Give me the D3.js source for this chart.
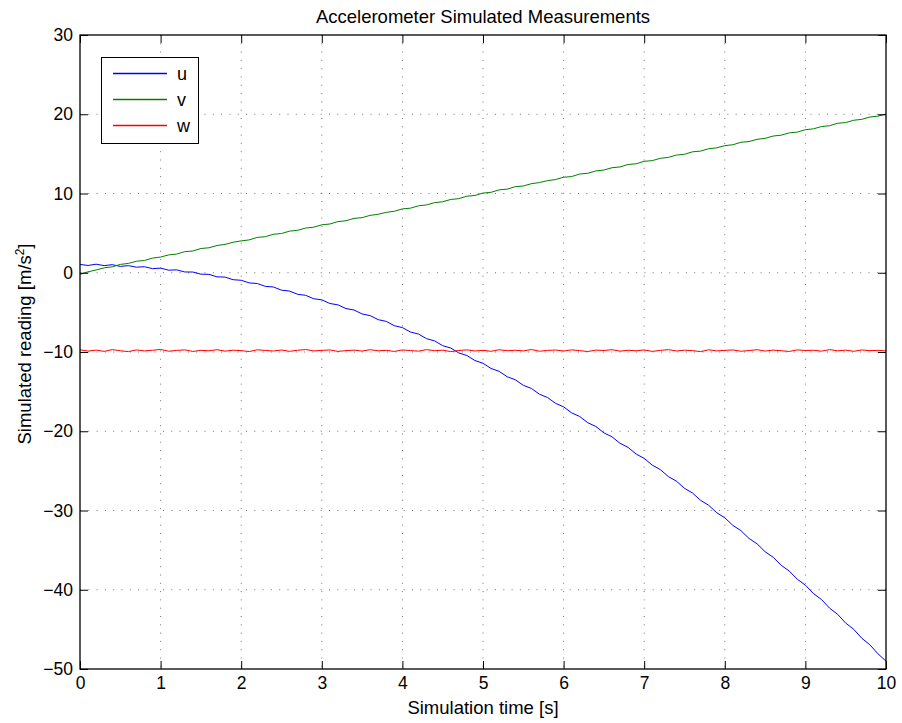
<!DOCTYPE html>
<html><head><meta charset="utf-8">
<script src="https://cdn.jsdelivr.net/npm/d3@7"></script>
<style>body{margin:0;background:#fff}text{font-family:"Liberation Sans",Arial,Helvetica,sans-serif}</style>
</head><body><svg id="c" width="902" height="723"></svg>
<script>
const timeS = d3.range(0, 101).map(i => i / 10);
const uVals = [1.05,0.92,1.08,0.90,1.02,0.80,0.90,0.70,0.76,0.52,0.58,0.33,0.36,0.10,0.09,-0.18,-0.20,-0.52,-0.55,-0.88,
-0.95,-1.28,-1.36,-1.72,-1.80,-2.20,-2.31,-2.72,-2.85,-3.28,-3.42,-3.88,-4.05,-4.52,-4.70,-5.20,-5.41,-5.92,-6.14,-6.68,
-6.92,-7.48,-7.74,-8.32,-8.60,-9.20,-9.50,-10.12,-10.44,-11.08,-11.42,-12.08,-12.44,-13.12,-13.50,-14.20,-14.60,-15.32,-15.74,-16.48,
-16.92,-17.68,-18.14,-18.92,-19.40,-20.20,-20.70,-21.52,-22.04,-22.88,-23.42,-24.28,-24.84,-25.72,-26.30,-27.20,-27.80,-28.72,-29.34,-30.28,
-30.92,-31.88,-32.54,-33.52,-34.20,-35.20,-35.90,-36.92,-37.64,-38.68,-39.42,-40.48,-41.24,-42.32,-43.10,-44.20,-45.00,-46.12,-46.94,-48.08,-49.00];
const vVals = [-0.20,0.12,0.35,0.62,0.75,1.05,1.18,1.45,1.55,1.85,1.98,2.25,2.36,2.66,2.75,3.06,3.15,3.44,3.58,3.85,
4.02,4.15,4.46,4.55,4.86,4.95,5.25,5.36,5.64,5.75,6.05,6.15,6.45,6.56,6.86,6.95,7.24,7.38,7.62,7.76,
8.06,8.15,8.45,8.56,8.85,8.96,9.25,9.35,9.66,9.75,10.05,10.15,10.46,10.55,10.86,10.95,11.24,11.38,11.62,11.76,
12.05,12.14,12.46,12.55,12.85,12.96,13.25,13.35,13.66,13.75,14.06,14.15,14.44,14.56,14.85,14.95,15.26,15.35,15.65,15.76,
16.04,16.15,16.46,16.55,16.84,16.96,17.25,17.36,17.65,17.75,18.05,18.16,18.45,18.55,18.86,18.95,19.24,19.36,19.65,19.76,20.02];
const wVals = [-9.72,-9.88,-9.76,-9.92,-9.70,-9.84,-9.95,-9.74,-9.86,-9.78,-9.68,-9.90,-9.80,-9.73,-9.93,-9.79,-9.85,-9.71,-9.89,-9.77,
-9.83,-9.94,-9.72,-9.81,-9.87,-9.75,-9.91,-9.78,-9.69,-9.86,-9.80,-9.74,-9.92,-9.83,-9.76,-9.88,-9.71,-9.85,-9.79,-9.93,
-9.74,-9.82,-9.89,-9.70,-9.84,-9.77,-9.95,-9.81,-9.73,-9.87,-9.79,-9.91,-9.72,-9.84,-9.78,-9.86,-9.69,-9.90,-9.80,-9.75,
-9.88,-9.73,-9.83,-9.94,-9.76,-9.81,-9.71,-9.89,-9.78,-9.85,-9.74,-9.92,-9.80,-9.70,-9.87,-9.77,-9.83,-9.95,-9.72,-9.86,
-9.79,-9.74,-9.90,-9.82,-9.71,-9.88,-9.76,-9.84,-9.93,-9.73,-9.81,-9.78,-9.89,-9.70,-9.85,-9.77,-9.91,-9.74,-9.83,-9.79,-9.86];
const seriesNames = ["u","v","w"];
const seriesColors = ["#0000ff","#008000","#ff0000"];
const xTicks = [0,1,2,3,4,5,6,7,8,9,10];
const yTicks = [-50,-40,-30,-20,-10,0,10,20,30];

const svg = d3.select("#c");
const L = 80, R = 886, T = 35, B = 669;
const x = d3.scaleLinear().domain([0,10]).range([L,R]);
const y = d3.scaleLinear().domain([-50,30]).range([B,T]);

// grid
const g = svg.append("g");
g.selectAll("line.gx").data(xTicks.slice(1,-1)).enter().append("line").attr("class","gx")
  .attr("x1",d=>x(d)).attr("x2",d=>x(d)).attr("y1",T).attr("y2",B)
  .attr("stroke","#000").attr("stroke-width",1).attr("stroke-dasharray","1,7.3").attr("opacity",0.55);
g.selectAll("line.gy").data(yTicks.slice(1,-1)).enter().append("line").attr("class","gy")
  .attr("y1",d=>y(d)).attr("y2",d=>y(d)).attr("x1",L).attr("x2",R)
  .attr("stroke","#000").attr("stroke-width",1).attr("stroke-dasharray","1,7.3").attr("opacity",0.55);

// series
const allVals = [uVals, vVals, wVals];
const line = d3.line().x((d,i)=>x(timeS[i])).y(d=>y(d));
allVals.forEach((vals,k)=>{
  svg.append("path").datum(vals).attr("d",line).attr("fill","none")
    .style("stroke",seriesColors[k]).attr("stroke-width",1);
});

// axes with inward ticks
const fs = "17.5px";
const ax = svg.append("g").attr("transform",`translate(0,${B})`).call(d3.axisBottom(x).tickValues(xTicks).tickSizeInner(-8).tickSizeOuter(0).tickPadding(8));
const axT = svg.append("g").attr("transform",`translate(0,${T})`).call(d3.axisTop(x).tickValues(xTicks).tickSizeInner(-8).tickSizeOuter(0).tickFormat(""));
const ay = svg.append("g").attr("transform",`translate(${L},0)`).call(d3.axisLeft(y).tickValues(yTicks).tickSizeInner(-8).tickSizeOuter(0).tickPadding(7).tickFormat(d=>d<0?"\u2212"+Math.abs(d):d));
const ayR = svg.append("g").attr("transform",`translate(${R},0)`).call(d3.axisRight(y).tickValues(yTicks).tickSizeInner(-8).tickSizeOuter(0).tickFormat(""));
[ax,axT,ay,ayR].forEach(a=>{
  a.select(".domain").remove();
  a.selectAll(".tick line").attr("stroke","#000");
  a.selectAll("text").attr("font-size",fs).attr("fill","#000").attr("font-family","Liberation Sans, Arial, sans-serif");
});
svg.append("rect").attr("x",L).attr("y",T).attr("width",R-L).attr("height",B-T)
  .attr("fill","none").attr("stroke","#000").attr("stroke-width",1.3);

// labels
svg.append("text").attr("x",(L+R)/2).attr("y",23).attr("text-anchor","middle").attr("font-size","18.5px").text("Accelerometer Simulated Measurements");
svg.append("text").attr("x",(L+R)/2).attr("y",714).attr("text-anchor","middle").attr("font-size","18.5px").text("Simulation time [s]");
const yl = svg.append("text").attr("transform",`translate(31,${(T+B)/2 - 8}) rotate(-90)`).attr("text-anchor","middle").attr("font-size","18.5px");
yl.append("tspan").text("Simulated reading [m/s");
yl.append("tspan").attr("baseline-shift","super").attr("font-size","12px").text("2");
yl.append("tspan").text("]");

// legend
const lg = svg.append("g");
lg.append("rect").attr("x",101.5).attr("y",57.5).attr("width",97).attr("height",86).attr("fill","#fff").attr("stroke","#000").attr("stroke-width",1);
lg.selectAll("line.leg").data(seriesNames).enter().append("line").attr("class","leg")
  .attr("x1",113).attr("x2",167).attr("y1",(d,k)=>73.5+k*26).attr("y2",(d,k)=>73.5+k*26)
  .style("stroke",(d,k)=>seriesColors[k]).attr("stroke-width",1.3);
lg.selectAll("text.leg").data(seriesNames).enter().append("text").attr("class","leg")
  .attr("x",177).attr("y",(d,k)=>79.5+k*26).attr("font-size","18px").text(d=>d);
</script></body></html>
